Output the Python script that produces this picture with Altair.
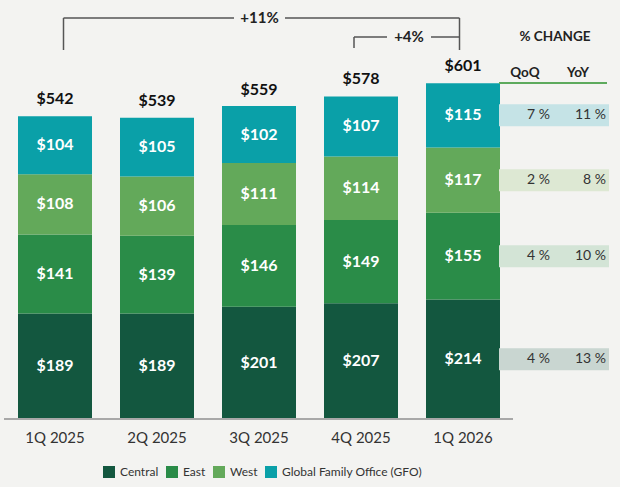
import altair as alt
import pandas as pd

quarters = ["1Q 2025", "2Q 2025", "3Q 2025", "4Q 2025", "1Q 2026"]
segments = ["Central", "East", "West", "Global Family Office (GFO)"]
central = [189, 189, 201, 207, 214]
east = [141, 139, 146, 149, 155]
west = [108, 106, 111, 114, 117]
gfo = [104, 105, 102, 107, 115]
totals = [542, 539, 559, 578, 601]
qoq = [4, 4, 2, 7]      # Central, East, West, GFO
yoy = [13, 10, 8, 11]

colors = ["#13573f", "#2a8c48", "#63a95a", "#0aa0a8"]
light = ["#c9d6d1", "#d3e4d6", "#dde8d3", "#c5e3e6"]
FONT = "Lato"

series = [central, east, west, gfo]
rows = []
for qi, q in enumerate(quarters):
    for si, s in enumerate(segments):
        rows.append({
            "quarter": q, "segment": s, "order": si, "value": series[si][qi],
            "qoq": qoq[si] if qi == len(quarters) - 1 else None,
            "yoy": yoy[si] if qi == len(quarters) - 1 else None,
        })
df = pd.DataFrame(rows)
tot_df = pd.DataFrame({"quarter": quarters, "total": totals})

x_scale = alt.Scale(domain=quarters, range=[13, 495], paddingInner=28 / 102, paddingOuter=0)
y_scale = alt.Scale(domain=[0, 732], nice=False, zero=True)
x_axis = alt.Axis(title=None, domain=False, ticks=False, labelAngle=0, labelFontSize=15,
                  labelColor="#333333", labelFont=FONT, labelPadding=11)

stacked = (alt.Chart(df)
           .transform_stack(stack="value", as_=["y0", "y1"], groupby=["quarter"],
                            sort=[alt.SortField("order", order="ascending")])
           .transform_calculate(mid="(datum.y0 + datum.y1) / 2",
                                label="'$' + datum.value"))

bars = stacked.mark_bar().encode(
    x=alt.X("quarter:N", scale=x_scale, sort=quarters, axis=x_axis),
    y=alt.Y("y0:Q", scale=y_scale, axis=None),
    y2="y1:Q",
    color=alt.Color("segment:N", scale=alt.Scale(domain=segments, range=colors),
                    legend=alt.Legend(orient="none", direction="horizontal", legendX=98, legendY=456,
                                      title=None, symbolType="square", symbolSize=144,
                                      symbolStrokeWidth=0, labelFontSize=12, labelFont=FONT,
                                      labelColor="#333333", columnPadding=7, labelOffset=5)),
)

seg_text = stacked.mark_text(color="white", fontWeight="bold", fontSize=16, font=FONT,
                             baseline="middle").encode(
    x=alt.X("quarter:N", scale=x_scale, sort=quarters),
    y=alt.Y("mid:Q", scale=y_scale),
    text="label:N",
)

tot_text = (alt.Chart(tot_df)
            .transform_calculate(label="'$' + datum.total")
            .mark_text(color="#111111", fontWeight="bold", fontSize=16, font=FONT,
                       baseline="middle", dy=-17)
            .encode(x=alt.X("quarter:N", scale=x_scale, sort=quarters),
                    y=alt.Y("total:Q", scale=y_scale),
                    text="label:N"))

baseline = alt.Chart(tot_df).mark_rule(color="#a8a8a8", strokeWidth=1.5).encode(
    x=alt.value(-1), x2=alt.value(508), y=alt.datum(0))

# % change table aligned with the last quarter's segments
last = stacked.transform_filter(alt.datum.quarter == quarters[-1]).transform_calculate(
    qlab="datum.qoq + ' %'", ylab="datum.yoy + ' %'")
bands = last.mark_rule(strokeWidth=22).encode(
    x=alt.value(494), x2=alt.value(604),
    y=alt.Y("mid:Q", scale=y_scale),
    stroke=alt.Stroke("segment:N", scale=alt.Scale(domain=segments, range=light), legend=None),
)
q_text = last.mark_text(align="right", baseline="middle", fontSize=14, font=FONT,
                        color="#333333").encode(x=alt.value(545), y=alt.Y("mid:Q", scale=y_scale),
                                                 text="qlab:N")
y_text = last.mark_text(align="right", baseline="middle", fontSize=14, font=FONT,
                        color="#333333").encode(x=alt.value(601), y=alt.Y("mid:Q", scale=y_scale),
                                                 text="ylab:N")

one = alt.Chart(pd.DataFrame({"a": [0]}))


def label(txt, x, y, size=13.5, weight="bold"):
    return one.mark_text(fontSize=size, fontWeight=weight, font=FONT, color="#222222",
                         baseline="middle", align="center").encode(
        x=alt.value(x), y=alt.value(y), text=alt.value(txt))


def hline(x1, x2, y, color="#555555", w=1.5):
    return one.mark_rule(color=color, strokeWidth=w).encode(
        x=alt.value(x1), x2=alt.value(x2), y=alt.value(y))


def vline(x, y1, y2, color="#555555", w=1.5):
    return one.mark_rule(color=color, strokeWidth=w).encode(
        x=alt.value(x), y=alt.value(y1), y2=alt.value(y2))


hdr = [label("% CHANGE", 550, 27), label("QoQ", 520, 63), label("YoY", 573, 63),
       hline(494, 602, 73, color="#5daa5d", w=2)]

yoy_total = round((totals[-1] / totals[0] - 1) * 100)
qoq_total = round((totals[-1] / totals[-2] - 1) * 100)
brackets = [
    vline(58.5, 8, 40), hline(58.5, 229, 8), hline(280, 454.5, 8), vline(454.5, 8, 40),
    label(f"+{yoy_total}%", 254.5, 8, size=15),
    vline(349, 27, 38), hline(349, 382, 27), hline(426, 454.5, 27),
    label(f"+{qoq_total}%", 404, 27, size=15),
]

chart = alt.layer(bars, seg_text, tot_text, baseline, bands, q_text, y_text, *hdr, *brackets).properties(
    width=605, height=409,
    autosize=alt.AutoSizeParams(type="none"),
    padding={"left": 5, "top": 10, "right": 10, "bottom": 68},
    background="#f3f3f1",
).configure_view(stroke=None)

chart.save("out.html", embed_options={"renderer": "svg", "actions": False})
